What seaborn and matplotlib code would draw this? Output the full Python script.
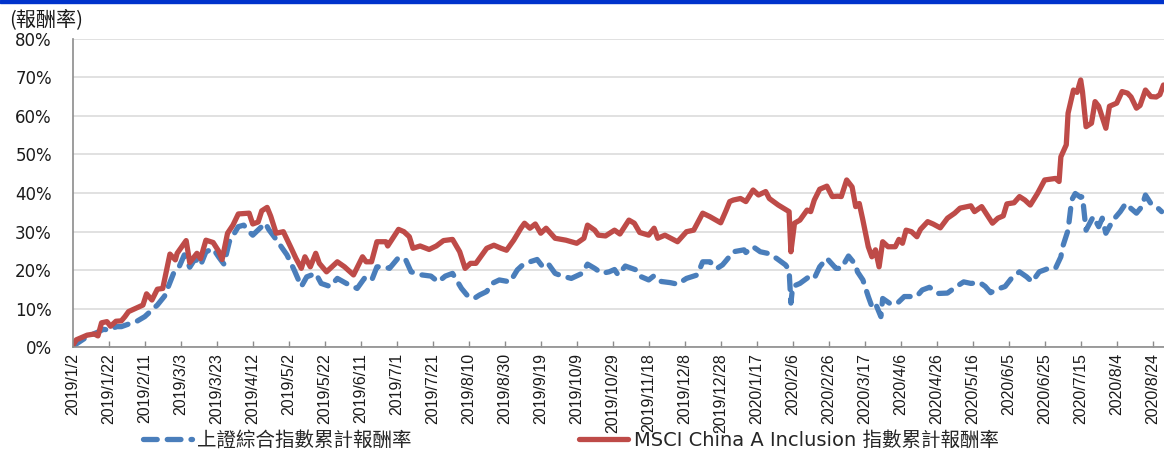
import pandas as pd
import matplotlib
matplotlib.use("Agg")
import matplotlib.pyplot as plt
from matplotlib.ticker import PercentFormatter, MultipleLocator
from matplotlib.patches import Rectangle
import seaborn as sns

# MSCI China A Inclusion cumulative return (%)
msci_dates = [
    "2019-01-02", "2019-01-04", "2019-01-10", "2019-01-14", "2019-01-16", "2019-01-18",
    "2019-01-21", "2019-01-23", "2019-01-26", "2019-01-29", "2019-01-31", "2019-02-02",
    "2019-02-10", "2019-02-12", "2019-02-15", "2019-02-18", "2019-02-21", "2019-02-25",
    "2019-02-28", "2019-03-01", "2019-03-06", "2019-03-08", "2019-03-12", "2019-03-14",
    "2019-03-17", "2019-03-21", "2019-03-24", "2019-03-26", "2019-03-29", "2019-04-01",
    "2019-04-04", "2019-04-10", "2019-04-12", "2019-04-15", "2019-04-17", "2019-04-20",
    "2019-04-22", "2019-04-25", "2019-04-29", "2019-05-03", "2019-05-06", "2019-05-09",
    "2019-05-11", "2019-05-14", "2019-05-17", "2019-05-19", "2019-05-23", "2019-05-29",
    "2019-06-02", "2019-06-07", "2019-06-12", "2019-06-14", "2019-06-17", "2019-06-20",
    "2019-06-25", "2019-06-26", "2019-07-02", "2019-07-05", "2019-07-08", "2019-07-10",
    "2019-07-14", "2019-07-19", "2019-07-23", "2019-07-27", "2019-08-01", "2019-08-05",
    "2019-08-08", "2019-08-11", "2019-08-14", "2019-08-16", "2019-08-20", "2019-08-24",
    "2019-08-28", "2019-08-31", "2019-09-04", "2019-09-08", "2019-09-10", "2019-09-13",
    "2019-09-16", "2019-09-19", "2019-09-22", "2019-09-27", "2019-10-03", "2019-10-09",
    "2019-10-13", "2019-10-15", "2019-10-19", "2019-10-21", "2019-10-25", "2019-10-30",
    "2019-11-02", "2019-11-07", "2019-11-10", "2019-11-13", "2019-11-18", "2019-11-21",
    "2019-11-23", "2019-11-27", "2019-12-04", "2019-12-09", "2019-12-13", "2019-12-18",
    "2019-12-22", "2019-12-28", "2019-12-31", "2020-01-02", "2020-01-04", "2020-01-08",
    "2020-01-11", "2020-01-15", "2020-01-18", "2020-01-22", "2020-01-24", "2020-01-29",
    "2020-02-04", "2020-02-05", "2020-02-07", "2020-02-10", "2020-02-14", "2020-02-16",
    "2020-02-18", "2020-02-21", "2020-02-25", "2020-02-28", "2020-03-02", "2020-03-04",
    "2020-03-07", "2020-03-10", "2020-03-12", "2020-03-14", "2020-03-16", "2020-03-19",
    "2020-03-21", "2020-03-23", "2020-03-25", "2020-03-27", "2020-03-30", "2020-04-03",
    "2020-04-05", "2020-04-07", "2020-04-09", "2020-04-12", "2020-04-15", "2020-04-17",
    "2020-04-21", "2020-04-24", "2020-04-28", "2020-05-02", "2020-05-06", "2020-05-09",
    "2020-05-15", "2020-05-17", "2020-05-21", "2020-05-27", "2020-05-30", "2020-06-02",
    "2020-06-04", "2020-06-08", "2020-06-11", "2020-06-14", "2020-06-17", "2020-06-21",
    "2020-06-25", "2020-07-01", "2020-07-03", "2020-07-04", "2020-07-07", "2020-07-08",
    "2020-07-11", "2020-07-13", "2020-07-15", "2020-07-16", "2020-07-18", "2020-07-21",
    "2020-07-23", "2020-07-25", "2020-07-29", "2020-07-31", "2020-08-04", "2020-08-07",
    "2020-08-10", "2020-08-12", "2020-08-15", "2020-08-17", "2020-08-20", "2020-08-23",
    "2020-08-26", "2020-08-28", "2020-08-30",
]
msci_ret = [
    0.5, 2.0, 3.2, 3.5, 3.0, 6.4,
    6.7, 5.5, 6.8, 6.9, 8.0, 9.3,
    11.0, 13.9, 12.3, 15.1, 15.3, 24.2,
    22.7, 24.4, 27.7, 22.0, 24.4, 23.0,
    27.8, 27.2, 25.0, 22.8, 29.6, 31.7,
    34.6, 34.8, 32.0, 32.5, 35.4, 36.3,
    34.0, 29.6, 30.0, 26.1, 23.1, 20.5,
    23.5, 20.9, 24.4, 21.8, 19.6, 22.2,
    20.9, 18.8, 23.5, 22.2, 22.2, 27.4,
    27.4, 26.3, 30.6, 30.0, 28.7, 25.7,
    26.3, 25.4, 26.3, 27.7, 28.0, 24.8,
    20.5, 21.8, 21.8, 23.1, 25.7, 26.5,
    25.7, 25.2, 27.8, 30.9, 32.2, 30.9,
    32.0, 29.6, 30.9, 28.3, 27.8, 27.0,
    28.3, 31.7, 30.4, 29.1, 28.9, 30.4,
    29.4, 33.0, 32.2, 29.8, 29.1, 30.9,
    28.3, 29.1, 27.4, 30.0, 30.4, 34.8,
    33.9, 32.3, 35.5, 37.8, 38.2, 38.6,
    37.8, 40.8, 39.5, 40.4, 38.6, 36.9,
    35.2, 24.8, 32.2, 33.0, 35.6, 35.2,
    38.2, 41.0, 41.8, 39.1, 39.2, 39.1,
    43.4, 41.6, 36.5, 37.3, 33.0, 26.1,
    23.5, 25.3, 20.9, 27.4, 26.1, 26.1,
    28.0, 27.0, 30.4, 30.0, 28.7, 30.6,
    32.6, 32.0, 31.0, 33.5, 34.8, 36.1,
    36.7, 35.2, 36.5, 32.2, 33.5, 34.1,
    37.2, 37.5, 39.1, 38.2, 36.9, 39.9,
    43.4, 43.8, 43.0, 49.4, 52.5, 60.7,
    66.7, 66.1, 69.3, 66.3, 57.2, 58.1,
    63.7, 62.5, 56.8, 62.5, 63.3, 66.3,
    65.9, 64.9, 62.0, 62.7, 66.7, 65.0,
    64.9, 65.5, 68.0,
]

# Shanghai Composite cumulative return (%)
sse_dates = [
    "2019-01-02", "2019-01-10", "2019-01-16", "2019-01-19", "2019-01-23", "2019-01-26",
    "2019-01-29", "2019-02-07", "2019-02-11", "2019-02-14", "2019-02-18", "2019-02-22",
    "2019-02-27", "2019-03-02", "2019-03-05", "2019-03-08", "2019-03-11", "2019-03-14",
    "2019-03-17", "2019-03-21", "2019-03-24", "2019-03-27", "2019-03-30", "2019-04-04",
    "2019-04-07", "2019-04-10", "2019-04-12", "2019-04-16", "2019-04-19", "2019-04-21",
    "2019-04-25", "2019-04-28", "2019-05-01", "2019-05-05", "2019-05-09", "2019-05-12",
    "2019-05-17", "2019-05-20", "2019-05-25", "2019-05-29", "2019-06-03", "2019-06-09",
    "2019-06-13", "2019-06-17", "2019-06-20", "2019-06-24", "2019-06-27", "2019-07-02",
    "2019-07-06", "2019-07-09", "2019-07-15", "2019-07-20", "2019-07-24", "2019-07-28",
    "2019-08-01", "2019-08-06", "2019-08-09", "2019-08-13", "2019-08-16", "2019-08-20",
    "2019-08-23", "2019-08-27", "2019-09-02", "2019-09-06", "2019-09-09", "2019-09-13",
    "2019-09-17", "2019-09-20", "2019-09-23", "2019-09-27", "2019-10-01", "2019-10-06",
    "2019-10-12", "2019-10-15", "2019-10-19", "2019-10-23", "2019-10-27", "2019-10-30",
    "2019-11-01", "2019-11-05", "2019-11-11", "2019-11-13", "2019-11-18", "2019-11-21",
    "2019-11-25", "2019-11-30", "2019-12-04", "2019-12-09", "2019-12-15", "2019-12-18",
    "2019-12-22", "2019-12-26", "2019-12-29", "2019-12-31", "2020-01-04", "2020-01-10",
    "2020-01-11", "2020-01-15", "2020-01-19", "2020-01-23", "2020-01-28", "2020-02-02",
    "2020-02-04", "2020-02-05", "2020-02-06", "2020-02-10", "2020-02-15", "2020-02-18",
    "2020-02-21", "2020-02-25", "2020-03-01", "2020-03-04", "2020-03-08", "2020-03-12",
    "2020-03-13", "2020-03-16", "2020-03-19", "2020-03-21", "2020-03-23", "2020-03-26",
    "2020-03-27", "2020-03-31", "2020-04-04", "2020-04-08", "2020-04-12", "2020-04-15",
    "2020-04-18", "2020-04-22", "2020-04-27", "2020-05-02", "2020-05-07", "2020-05-11",
    "2020-05-15", "2020-05-20", "2020-05-23", "2020-05-26", "2020-05-29", "2020-06-03",
    "2020-06-07", "2020-06-11", "2020-06-15", "2020-06-18", "2020-06-22", "2020-06-26",
    "2020-07-01", "2020-07-04", "2020-07-05", "2020-07-08", "2020-07-10", "2020-07-12",
    "2020-07-15", "2020-07-16", "2020-07-18", "2020-07-22", "2020-07-25", "2020-07-27",
    "2020-07-29", "2020-08-02", "2020-08-06", "2020-08-09", "2020-08-12", "2020-08-15",
    "2020-08-18", "2020-08-20", "2020-08-23", "2020-08-26", "2020-08-29",
]
sse_ret = [
    0.3, 2.8, 4.0, 4.7, 4.5, 5.4,
    5.4, 6.9, 8.0, 9.3, 11.0, 13.3,
    19.2, 20.8, 24.0, 20.8, 23.0, 21.3,
    24.8, 25.6, 23.5, 21.6, 27.4, 31.3,
    31.7, 30.0, 29.1, 30.9, 32.2, 30.5,
    28.0, 26.0, 24.0, 20.1, 15.8, 18.3,
    19.2, 16.6, 15.8, 17.9, 16.6, 15.3,
    17.9, 17.3, 20.9, 20.9, 20.5, 23.3,
    22.7, 19.6, 18.8, 18.5, 17.0, 18.5,
    19.2, 15.3, 13.6, 12.7, 13.6, 14.5,
    16.6, 17.5, 17.0, 20.1, 21.4, 22.2,
    22.8, 21.0, 21.8, 19.2, 18.5, 17.9,
    19.2, 21.6, 20.5, 19.2, 19.6, 20.2,
    18.8, 21.1, 20.1, 18.5, 17.5, 18.6,
    17.1, 16.8, 16.4, 17.9, 18.8, 22.2,
    22.2, 20.5, 21.4, 22.5, 24.8, 25.3,
    24.6, 26.1, 24.8, 24.4, 23.1, 21.4,
    20.1, 11.5, 15.8, 16.6, 18.3, 17.9,
    20.9, 23.1, 20.5, 20.5, 23.7, 21.4,
    19.6, 17.5, 13.2, 10.6, 11.4, 8.0,
    12.7, 11.4, 11.4, 13.2, 13.2, 13.3,
    14.9, 15.6, 14.0, 14.1, 15.8, 17.0,
    16.6, 16.8, 15.8, 14.2, 15.0, 15.8,
    18.2, 19.6, 18.3, 17.0, 19.6, 20.3,
    20.5, 23.5, 26.1, 30.4, 38.2, 39.9,
    38.9, 39.1, 30.4, 33.9, 31.3, 33.5,
    29.6, 33.0, 35.2, 37.3, 36.0, 34.8,
    36.5, 39.5, 37.3, 36.5, 35.2,
]

sse_label = "上證綜合指數累計報酬率"
msci_label = "MSCI China A Inclusion 指數累計報酬率"

start = pd.Timestamp("2019-01-02")
tick_dates = pd.date_range(start, "2020-08-24", freq="20D")
tick_labels = [f"{d.year}/{d.month}/{d.day}" for d in tick_dates]

sns.set_theme(style="white")
plt.rcParams["font.family"] = ["DejaVu Sans", "Noto Sans CJK TC"]

fig = plt.figure(figsize=(11.64, 4.51), dpi=100)
ax = fig.add_axes([0.0625, 0.2295, 0.9375, 0.6847])

sns.lineplot(x=pd.to_datetime(sse_dates), y=sse_ret, ax=ax, color="#4a7ebb",
             linewidth=3.8, label=sse_label)
sns.lineplot(x=pd.to_datetime(msci_dates), y=msci_ret, ax=ax, color="#be4b48",
             linewidth=3.8, label=msci_label)
blue_line = ax.lines[0]
blue_line.set_dashes((2.6, 1.9))
blue_line.set_dash_capstyle("round")
ax.lines[1].set_solid_capstyle("round")

ax.set_xlim(start, start + pd.Timedelta(days=606.3))
ax.set_ylim(0, 80)
ax.yaxis.set_major_locator(MultipleLocator(10))
ax.yaxis.set_major_formatter(PercentFormatter(xmax=100, decimals=0))
ax.grid(axis="y", color="#d9d9d9", linewidth=1.1)
ax.set_axisbelow(True)

ax.set_xticks(tick_dates)
ax.set_xticklabels(tick_labels, rotation=90, family="Liberation Sans", fontsize=11.5,
                   color="#1a1a1a")
ax.tick_params(axis="x", direction="in", length=4, width=1, color="#8c8c8c", pad=4,
               bottom=True)
ax.tick_params(axis="y", length=0, pad=15, labelsize=12, labelcolor="#1a1a1a")
ax.set_xlabel("")
ax.set_ylabel("")

for side in ["top", "right"]:
    ax.spines[side].set_visible(False)
for side in ["left", "bottom"]:
    ax.spines[side].set_color("#8c8c8c")
    ax.spines[side].set_linewidth(1.2)

fig.text(0.008, 1 - 20 / 451, "(報酬率)", fontsize=14.5, va="center", ha="left",
         family=["Noto Sans CJK TC", "DejaVu Sans"], color="#1a1a1a")

ax.legend(loc="center left", bbox_to_anchor=(143 / 1164, 1 - 440 / 451),
          bbox_transform=fig.transFigure, ncol=2, frameon=False, borderpad=0,
          borderaxespad=0, handlelength=2.5, handletextpad=0.3, columnspacing=8.6,
          prop={"family": ["DejaVu Sans", "Noto Sans CJK TC"], "size": 14})

# blue rule along the top edge
fig.patches.append(Rectangle((0, 1 - 3 / 451), 1, 3 / 451, transform=fig.transFigure,
                             color="#0033cc", zorder=5))

fig.savefig("out.png", dpi=100)
